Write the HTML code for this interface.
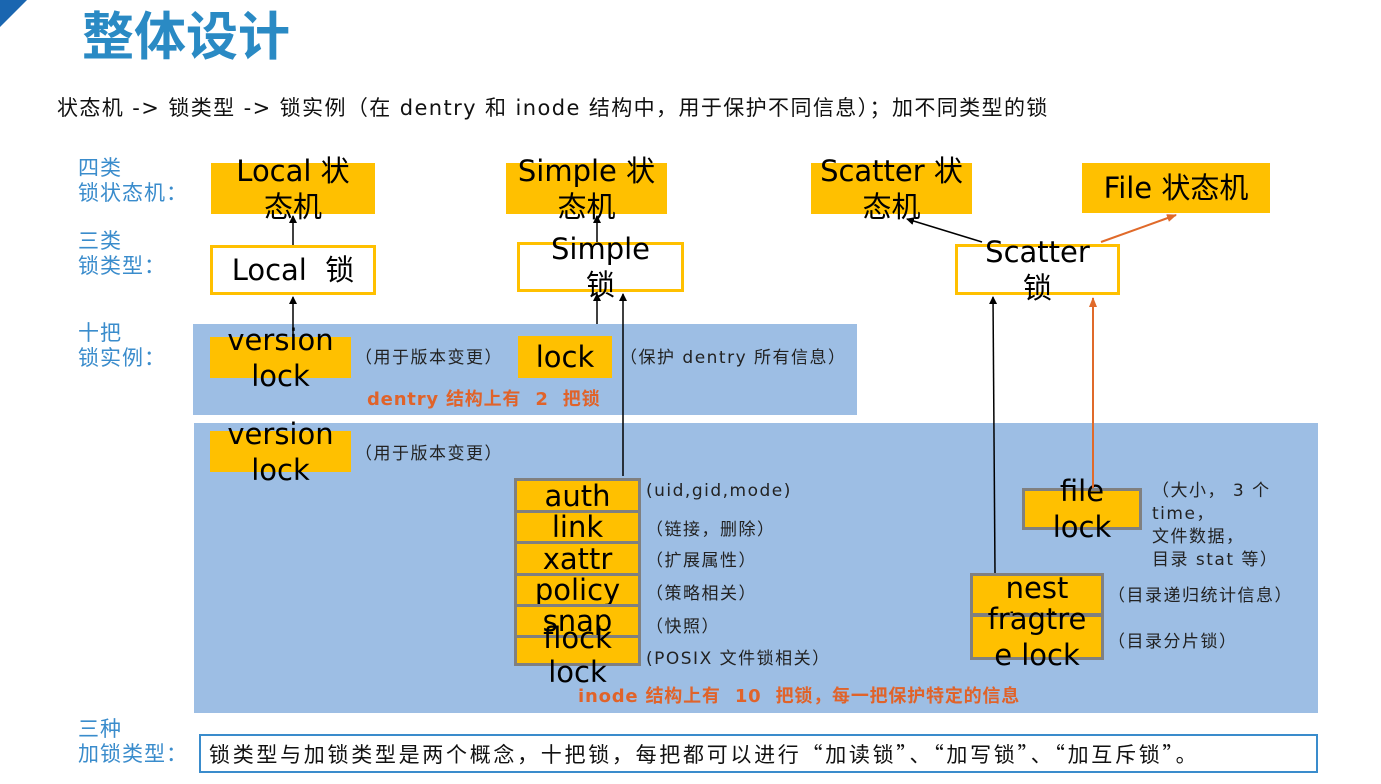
<!DOCTYPE html>
<html><head><meta charset="utf-8">
<style>
*{margin:0;padding:0;box-sizing:border-box}
body{width:1381px;height:784px;background:#fff;position:relative;overflow:hidden;font-family:"Liberation Sans","Noto Sans CJK SC",sans-serif}
.a{position:absolute}
.b{position:absolute;display:flex;align-items:center;justify-content:center;text-align:center;font-family:"DejaVu Sans","Noto Sans CJK SC",sans-serif;font-size:29px;line-height:36px;color:#000;overflow:visible;white-space:nowrap}
.y{background:#ffc000}
.w{background:#fff;border:3px solid #ffc000}
.g{background:#ffc000;border:3px solid #808080}
.lab{position:absolute;color:#3a8ccc;font-size:21px;line-height:25px;letter-spacing:1px;font-family:"Noto Sans CJK SC",sans-serif;white-space:nowrap}
.t{position:absolute;font-size:17px;letter-spacing:1.5px;color:#222;font-family:"DejaVu Sans","Noto Sans CJK SC",sans-serif;white-space:nowrap}
.band{position:absolute;background:#9dbee4}
.o{position:absolute;color:#e0632a;font-weight:bold;font-size:18px;letter-spacing:0.8px;font-family:"DejaVu Sans","Noto Sans CJK SC",sans-serif;white-space:nowrap}
</style></head><body>
<svg class="a" style="left:0;top:0" width="30" height="30"><polygon points="0,0 27,0 0,27" fill="#1a66b0"/></svg>
<div class="a" style="left:82px;top:0px;font-size:52px;font-weight:bold;color:#2a8ac4;font-family:'Noto Sans CJK SC',sans-serif;line-height:66px">整体设计</div>
<div class="a" style="left:57px;top:92px;font-size:21px;letter-spacing:1.4px;color:#111;font-family:'DejaVu Sans','Noto Sans CJK SC',sans-serif;white-space:nowrap">状态机 -&gt; 锁类型 -&gt; 锁实例（在 dentry 和 inode 结构中，用于保护不同信息）；加不同类型的锁</div>

<div class="lab" style="left:78px;top:155px">四类<br>锁状态机：</div>
<div class="lab" style="left:78px;top:228px">三类<br>锁类型：</div>
<div class="lab" style="left:78px;top:320px">十把<br>锁实例：</div>
<div class="lab" style="left:78px;top:716px">三种<br>加锁类型：</div>

<div class="band" style="left:193px;top:324px;width:664px;height:91px"></div>
<div class="band" style="left:194px;top:423px;width:1124px;height:290px"></div>

<div class="b y" style="left:211px;top:163px;width:164px;height:51px">Local 状<br>态机</div>
<div class="b y" style="left:506px;top:163px;width:161px;height:51px">Simple 状<br>态机</div>
<div class="b y" style="left:811px;top:163px;width:161px;height:51px">Scatter 状<br>态机</div>
<div class="b y" style="left:1082px;top:163px;width:188px;height:50px">File 状态机</div>

<div class="b w" style="left:210px;top:245px;width:166px;height:50px">Local&nbsp; 锁</div>
<div class="b w" style="left:517px;top:242px;width:167px;height:50px">Simple<br>锁</div>
<div class="b w" style="left:955px;top:244px;width:165px;height:51px">Scatter<br>锁</div>

<div class="b y" style="left:210px;top:337px;width:141px;height:41px">version<br>lock</div>
<div class="t" style="left:355px;top:343px">（用于版本变更）</div>
<div class="b y" style="left:518px;top:336px;width:94px;height:42px">lock</div>
<div class="t" style="left:620px;top:343px">（保护 dentry 所有信息）</div>
<div class="o" style="left:367px;top:385px">dentry 结构上有 &nbsp;2 &nbsp;把锁</div>

<div class="b y" style="left:210px;top:431px;width:141px;height:41px">version<br>lock</div>
<div class="t" style="left:355px;top:439px">（用于版本变更）</div>

<div class="b g" style="left:514px;top:478px;width:127px;height:35px">auth</div>
<div class="b g" style="left:514px;top:510px;width:127px;height:34px">link</div>
<div class="b g" style="left:514px;top:541px;width:127px;height:35px">xattr</div>
<div class="b g" style="left:514px;top:573px;width:127px;height:34px">policy</div>
<div class="b g" style="left:514px;top:604px;width:127px;height:34px">snap</div>
<div class="b g" style="left:514px;top:635px;width:127px;height:31px;align-items:flex-start;line-height:34px"><span style="margin-top:-17px">flock<br>lock</span></div>
<div class="t" style="left:646px;top:481px">(uid,gid,mode)</div>
<div class="t" style="left:646px;top:515px">（链接，删除）</div>
<div class="t" style="left:646px;top:546px">（扩展属性）</div>
<div class="t" style="left:646px;top:579px">（策略相关）</div>
<div class="t" style="left:646px;top:612px">（快照）</div>
<div class="t" style="left:646px;top:644px">(POSIX 文件锁相关）</div>
<div class="o" style="left:578px;top:682px">inode 结构上有 &nbsp;10 &nbsp;把锁，每一把保护特定的信息</div>

<div class="b g" style="left:1022px;top:488px;width:120px;height:42px">file<br>lock</div>
<div class="t" style="left:1152px;top:480px;line-height:23px">（大小， 3 个<br>time，<br>文件数据，<br>目录 stat 等）</div>
<div class="b g" style="left:970px;top:573px;width:134px;height:43px;overflow:hidden;align-items:flex-start;line-height:36px"><span style="margin-top:-6px">nest<br>lock</span></div>
<div class="b g" style="left:970px;top:614px;width:134px;height:46px">fragtre<br>e lock</div>
<div class="t" style="left:1108px;top:581px">（目录递归统计信息）</div>
<div class="t" style="left:1108px;top:627px">（目录分片锁）</div>

<div class="a" style="left:199px;top:734px;width:1119px;height:39px;border:2px solid #3a8ccc;background:#fff"></div>
<div class="a" style="left:209px;top:739px;font-size:21px;letter-spacing:2.7px;color:#111;font-family:'Noto Sans CJK SC',sans-serif;white-space:nowrap">锁类型与加锁类型是两个概念，十把锁，每把都可以进行“加读锁”、“加写锁”、“加互斥锁”。</div>

<svg class="a" style="left:0;top:0" width="1381" height="784">
<defs>
<marker id="k" markerWidth="8" markerHeight="8" refX="7" refY="4" orient="auto" markerUnits="userSpaceOnUse"><path d="M0,0 L8,4 L0,8 z" fill="#000"/></marker>
<marker id="r" markerWidth="10" markerHeight="8" refX="9" refY="4" orient="auto" markerUnits="userSpaceOnUse"><path d="M0,0 L10,4 L0,8 z" fill="#e06a2a"/></marker>
</defs>
<g stroke="#000" stroke-width="1.5" fill="none">
<line x1="293" y1="245" x2="293" y2="216" marker-end="url(#k)"/>
<line x1="293" y1="336" x2="293" y2="297" marker-end="url(#k)"/>
<line x1="597" y1="242" x2="597" y2="216" marker-end="url(#k)"/>
<line x1="597" y1="324" x2="597" y2="294" marker-end="url(#k)"/>
<line x1="623" y1="476" x2="623" y2="294" marker-end="url(#k)"/>
<line x1="995" y1="573" x2="993" y2="297" marker-end="url(#k)"/>
<line x1="982" y1="242" x2="907" y2="219" marker-end="url(#k)"/>
</g>
<g stroke="#e06a2a" stroke-width="2" fill="none">
<line x1="1093" y1="488" x2="1093" y2="298" marker-end="url(#r)"/>
<line x1="1101" y1="242" x2="1176" y2="215" marker-end="url(#r)"/>
</g>
</svg>
</body></html>
